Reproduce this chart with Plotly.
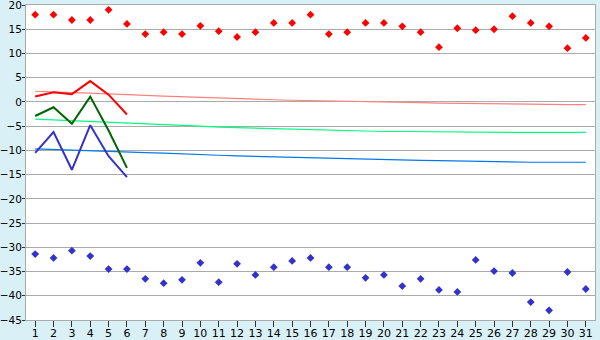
import plotly.graph_objects as go

days = list(range(1, 32))

record_max = [18.0, 18.0, 16.9, 16.9, 19.0, 16.1, 14.0, 14.4, 14.0, 15.7,
              14.6, 13.4, 14.4, 16.3, 16.3, 18.0, 14.0, 14.4, 16.3, 16.3,
              15.6, 14.4, 11.3, 15.2, 14.8, 15.0, 17.7, 16.3, 15.6, 11.1, 13.2]
record_min = [-31.4, -32.2, -30.7, -31.8, -34.5, -34.5, -36.5, -37.4, -36.7, -33.2,
              -37.2, -33.4, -35.7, -34.1, -32.8, -32.2, -34.1, -34.1, -36.3, -35.7,
              -38.0, -36.5, -38.8, -39.2, -32.6, -34.9, -35.3, -41.3, -43.0, -35.1, -38.6]

normal_max = [2.2, 2.0, 1.9, 1.8, 1.7, 1.5, 1.35, 1.2, 1.05, 0.9,
              0.75, 0.6, 0.55, 0.45, 0.35, 0.3, 0.2, 0.1, 0.1, 0.0,
              -0.1, -0.15, -0.25, -0.3, -0.35, -0.45, -0.5, -0.5, -0.5, -0.55, -0.55]
normal_mean = [-3.55, -3.7, -3.85, -4.0, -4.15, -4.3, -4.4, -4.55, -4.75, -5.0,
               -5.2, -5.3, -5.45, -5.5, -5.65, -5.7, -5.85, -5.9, -6.05, -6.1,
               -6.1, -6.15, -6.2, -6.3, -6.3, -6.3, -6.3, -6.3, -6.3, -6.3, -6.3]
normal_min = [-9.7, -9.85, -10.0, -10.1, -10.2, -10.3, -10.45, -10.55, -10.65, -10.8,
              -11.0, -11.15, -11.25, -11.35, -11.45, -11.6, -11.65, -11.75, -11.85, -11.95,
              -12.0, -12.05, -12.1, -12.2, -12.25, -12.3, -12.35, -12.45, -12.45, -12.45, -12.45]

obs_days = [1, 2, 3, 4, 5, 6]
obs_max = [1.1, 2.0, 1.6, 4.3, 1.5, -2.6]
obs_mean = [-2.9, -1.1, -4.5, 1.1, -5.9, -13.6]
obs_min = [-10.5, -6.2, -14.0, -4.8, -11.2, -15.5]

fig = go.Figure()
fig.add_trace(go.Scatter(x=days, y=normal_max, mode="lines", line=dict(color="#ff8080", width=1.2)))
fig.add_trace(go.Scatter(x=days, y=normal_mean, mode="lines", line=dict(color="#00ff80", width=1.2)))
fig.add_trace(go.Scatter(x=days, y=normal_min, mode="lines", line=dict(color="#0078f0", width=1.2)))
fig.add_trace(go.Scatter(x=obs_days, y=obs_max, mode="lines", line=dict(color="#ff0000", width=2)))
fig.add_trace(go.Scatter(x=obs_days, y=obs_mean, mode="lines", line=dict(color="#006400", width=2)))
fig.add_trace(go.Scatter(x=obs_days, y=obs_min, mode="lines", line=dict(color="#3333cc", width=2)))
fig.add_trace(go.Scatter(x=days, y=record_max, mode="markers",
                         marker=dict(symbol="diamond", size=6, color="#ff0000")))
fig.add_trace(go.Scatter(x=days, y=record_min, mode="markers",
                         marker=dict(symbol="diamond", size=6, color="#3333cc")))

fig.update_layout(
    width=600, height=340, autosize=False,
    margin=dict(l=26, r=5, t=5, b=20, pad=0, autoexpand=False),
    paper_bgcolor="#d9f0f6",
    plot_bgcolor="#ffffff",
    showlegend=False,
    font=dict(family="DejaVu Sans", size=11, color="#000000"),
)
fig.update_xaxes(range=[0.5, 31.5], tickmode="array", tickvals=days,
                 ticks="outside", ticklen=6, tickcolor="#333333", tickwidth=1,
                 ticklabelstandoff=-3, ticklabeloverflow="allow",
                 showgrid=False, zeroline=False, showline=True, linecolor="#aaaaaa",
                 mirror=True, tickfont=dict(size=11), automargin=False)
fig.update_yaxes(range=[-45, 20], dtick=5, ticks="outside", ticklen=3,
                 tickcolor="#333333", showgrid=True, gridcolor="#aaaaaa", gridwidth=1,
                 ticklabelstandoff=-2, ticklabeloverflow="allow",
                 zeroline=False, showline=True, linecolor="#aaaaaa", mirror=True,
                 tickfont=dict(size=10.5), automargin=False)

fig.write_html("out.html", config={"displayModeBar": False})
